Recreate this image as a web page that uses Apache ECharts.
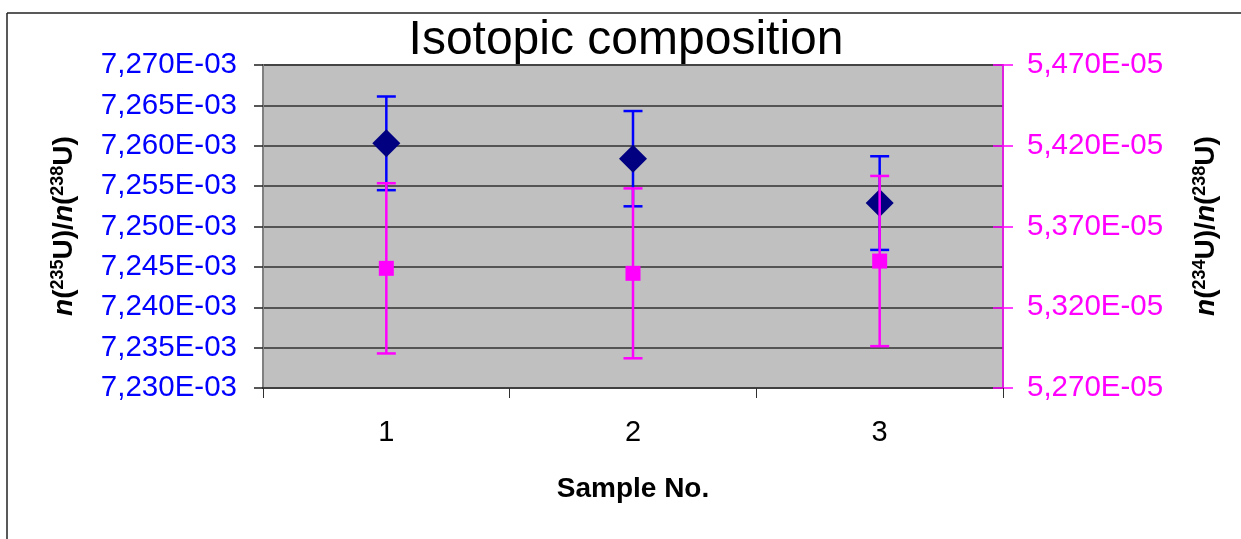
<!DOCTYPE html>
<html>
<head>
<meta charset="utf-8">
<script src="https://cdn.jsdelivr.net/npm/echarts@6/dist/echarts.min.js"></script>
<style>
html,body{margin:0;padding:0;background:#fff;}
#chart{width:1241px;height:539px;}
</style>
</head>
<body>
<div id="chart"></div>
<script>
// ---- data ----
const categories = ['1', '2', '3'];
// n(235U)/n(238U), in units of 1E-03
const u235Values = [7.2603, 7.2584, 7.2529];
const u235Errors = [0.0058, 0.0059, 0.0058];
// n(234U)/n(238U), in units of 1E-05
const u234Values = [5.3441, 5.3410, 5.3486];
const u234Errors = [0.0527, 0.0526, 0.0527];
// axis ranges
const leftMin = 7.230, leftMax = 7.270, leftStep = 0.005;
const rightMin = 5.270, rightMax = 5.470, rightStep = 0.050;

const FONT = 'Liberation Sans, Arial, sans-serif';
const BLUE = '#0000FF', NAVY = '#000080', MAG = '#FF00FF';

// right axis is drawn relative to its minimum so ticks start exactly at rightMin
const rOff = v => v - rightMin;

function errRender(color, capHalf) {
  return function (params, api) {
    const x = api.value(0), lo = api.value(1), hi = api.value(2);
    const a = api.coord([x, hi]), b = api.coord([x, lo]);
    const st = { stroke: color, lineWidth: 2.5 };
    return {
      type: 'group',
      children: [
        { type: 'line', shape: { x1: a[0], y1: a[1], x2: b[0], y2: b[1] }, style: st },
        { type: 'line', shape: { x1: a[0] - capHalf, y1: a[1], x2: a[0] + capHalf, y2: a[1] }, style: st },
        { type: 'line', shape: { x1: b[0] - capHalf, y1: b[1], x2: b[0] + capHalf, y2: b[1] }, style: st }
      ]
    };
  };
}

const u235Err = categories.map((c, i) => [i, u235Values[i] - u235Errors[i], u235Values[i] + u235Errors[i]]);
const u234Err = categories.map((c, i) => [i, rOff(u234Values[i] - u234Errors[i]), rOff(u234Values[i] + u234Errors[i])]);

const titleRich = {
  n: { fontFamily: FONT, fontSize: 28, fontWeight: 'bold', fontStyle: 'italic', color: '#000' },
  b: { fontFamily: FONT, fontSize: 28, fontWeight: 'bold', color: '#000' },
  s: { fontFamily: FONT, fontSize: 18, fontWeight: 'bold', color: '#000', verticalAlign: 'top', padding: [0, 0, 12, 0] }
};

const chart = echarts.init(document.getElementById('chart'), null, { renderer: 'canvas' });
chart.setOption({
  animation: false,
  backgroundColor: '#ffffff',
  grid: {
    left: 263, right: 238, top: 65, bottom: 151,
    show: true, backgroundColor: '#C0C0C0', borderColor: '#808080', borderWidth: 2
  },
  xAxis: {
    type: 'category',
    data: categories,
    boundaryGap: true,
    axisLine: { lineStyle: { color: '#404040', width: 2 } },
    axisTick: { show: true, length: 10, lineStyle: { color: '#303030', width: 1 } },
    axisLabel: { fontFamily: FONT, fontSize: 29, color: '#000', margin: 30 },
    splitLine: { show: false }
  },
  yAxis: [
    {
      type: 'value', position: 'left', min: leftMin, max: leftMax, interval: leftStep,
      axisLine: { show: true, lineStyle: { color: '#808080', width: 2 } },
      axisTick: { show: true, length: 9, lineStyle: { color: '#202020', width: 1.5 } },
      axisLabel: {
        fontFamily: FONT, fontSize: 29.5, color: BLUE, margin: 26,
        formatter: v => v.toFixed(3).replace('.', ',') + 'E-03'
      },
      splitLine: { show: true, lineStyle: { color: '#303030', width: 1.5 } }
    },
    {
      type: 'value', position: 'right', min: 0, max: rightMax - rightMin, interval: rightStep,
      axisLine: { show: true, lineStyle: { color: MAG, width: 1.5 } },
      axisTick: { show: true, length: 10, lineStyle: { color: MAG, width: 1.5 } },
      axisLabel: {
        fontFamily: FONT, fontSize: 29.5, color: MAG, margin: 24,
        formatter: v => (v + rightMin).toFixed(3).replace('.', ',') + 'E-05'
      },
      splitLine: { show: false }
    },
    {
      type: 'value', position: 'right', min: 0, max: rightMax - rightMin, interval: rightStep,
      axisLine: { show: false },
      axisTick: { show: true, inside: true, length: 10, lineStyle: { color: MAG, width: 1.5 } },
      axisLabel: { show: false },
      splitLine: { show: false }
    }
  ],
  series: [
    {
      type: 'custom', yAxisIndex: 0, renderItem: errRender(BLUE, 9.5),
      data: u235Err, z: 2, silent: true
    },
    {
      type: 'scatter', yAxisIndex: 0, data: u235Values,
      symbol: 'diamond', symbolSize: 28, itemStyle: { color: NAVY, opacity: 1 }, z: 3
    },
    {
      type: 'custom', yAxisIndex: 1, renderItem: errRender(MAG, 9.5),
      data: u234Err, z: 4, silent: true
    },
    {
      type: 'scatter', yAxisIndex: 1, data: u234Values.map(rOff),
      symbol: 'rect', symbolSize: 15, itemStyle: { color: MAG, opacity: 1 }, z: 5
    }
  ],
  graphic: [
    { type: 'line', shape: { x1: 7, y1: 13, x2: 1241, y2: 13 }, style: { stroke: '#222', lineWidth: 1.5 } },
    { type: 'line', shape: { x1: 7, y1: 13, x2: 7, y2: 539 }, style: { stroke: '#222', lineWidth: 1.5 } },
    {
      type: 'text', x: 626, y: 41,
      style: { text: 'Isotopic composition', fontFamily: FONT, fontSize: 48, fill: '#000', align: 'center', verticalAlign: 'middle' }
    },
    {
      type: 'text', x: 633, y: 489,
      style: { text: 'Sample No.', fontFamily: FONT, fontSize: 28, fontWeight: 'bold', fill: '#000', align: 'center', verticalAlign: 'middle' }
    },
    {
      type: 'text', x: 64, y: 226, rotation: Math.PI / 2,
      style: {
        text: '{n|n}{b|(}{s|235}{b|U)/}{n|n}{b|(}{s|238}{b|U)}',
        rich: titleRich, align: 'center', verticalAlign: 'middle'
      }
    },
    {
      type: 'text', x: 1206, y: 226, rotation: Math.PI / 2,
      style: {
        text: '{n|n}{b|(}{s|234}{b|U)/}{n|n}{b|(}{s|238}{b|U)}',
        rich: titleRich, align: 'center', verticalAlign: 'middle'
      }
    }
  ]
});
</script>
</body>
</html>
